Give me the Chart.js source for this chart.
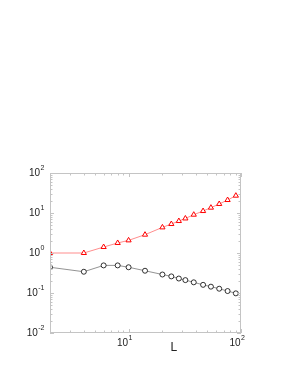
<!DOCTYPE html>
<html>
<head>
<meta charset="utf-8">
<script src="https://cdn.jsdelivr.net/npm/chart.js@4.4.1/dist/chart.umd.min.js"></script>
<style>
  html, body { margin: 0; padding: 0; background: #fff; }
  canvas { display: block; }
</style>
</head>
<body>
<canvas id="chart" width="291" height="376"></canvas>
<script>
// valores
const L_VALUES = [2, 4, 6, 8, 10, 14, 20, 24, 28, 32, 38, 46, 54, 64, 76, 90];
const SERIE_TRIANGULOS = [1.0, 1.0, 1.41, 1.78, 2.07, 2.87, 4.37, 5.3, 6.3, 7.3, 9.07, 11.2, 13.6, 16.8, 21.1, 27.1];
const SERIE_CIRCULOS = [0.44, 0.34, 0.49, 0.49, 0.44, 0.36, 0.29, 0.26, 0.23, 0.21, 0.185, 0.16, 0.144, 0.128, 0.112, 0.098];

const X_MAJOR = [10, 100];
const X_LABELS = [['10', '1'], ['10', '2']];
const Y_MAJOR = [0.01, 0.1, 1, 10, 100];
const Y_LABELS = [['10', '-2'], ['10', '-1'], ['10', '0'], ['10', '1'], ['10', '2']];
const X_TITLE = 'L';

const FRAME = '#c4c4c4';
const FONT = '"Liberation Sans", Arial, sans-serif';

function puntos(ys) {
    return L_VALUES.map((x, i) => ({ x: x, y: ys[i] }));
}

// marcas menores en escala log
function minorTicks(min, max) {
    const out = [];
    for (let d = Math.pow(10, Math.floor(Math.log10(min))); d < max; d *= 10) {
        for (let m = 1; m < 10; m++) {
            const v = d * m;
            if (v >= min * 0.999 && v <= max * 1.001) out.push(v);
        }
    }
    out.push(max);
    return out;
}

function drawLabel(ctx, base, exp, x, y, align) {
    ctx.font = '10px ' + FONT;
    const wb = ctx.measureText(base).width;
    ctx.font = '7px ' + FONT;
    const we = ctx.measureText(exp).width;
    let xb = align === 'right' ? x - we - wb : x - wb;
    ctx.fillStyle = '#222';
    ctx.textAlign = 'left';
    ctx.textBaseline = 'middle';
    ctx.font = '10px ' + FONT;
    ctx.fillText(base, xb, y);
    ctx.font = '7px ' + FONT;
    ctx.fillText(exp, xb + wb + 0.5, y - 5);
}

const marcoPlugin = {
    id: 'marco',
    afterDraw(chart) {
        const ctx = chart.ctx;
        const a = chart.chartArea;
        const sx = chart.scales.x, sy = chart.scales.y;
        ctx.save();
        ctx.strokeStyle = FRAME;
        ctx.lineWidth = 1;
        ctx.strokeRect(a.left + 0.5, a.top + 0.5, a.right - a.left - 1, a.bottom - a.top - 1);

        ctx.beginPath();
        minorTicks(sx.min, sx.max).forEach(v => {
            const px = Math.round(sx.getPixelForValue(v)) + 0.5;
            const len = X_MAJOR.includes(v) ? 4 : 2.5;
            ctx.moveTo(px, a.bottom); ctx.lineTo(px, a.bottom - len);
            ctx.moveTo(px, a.top); ctx.lineTo(px, a.top + len);
        });
        minorTicks(sy.min, sy.max).forEach(v => {
            const py = Math.round(sy.getPixelForValue(v)) + 0.5;
            const isMajor = Y_MAJOR.some(m => Math.abs(m - v) / m < 1e-6);
            const len = isMajor ? 4 : 2.5;
            ctx.moveTo(a.left, py); ctx.lineTo(a.left + len, py);
            ctx.moveTo(a.right, py); ctx.lineTo(a.right - len, py);
        });
        ctx.stroke();

        Y_MAJOR.forEach((v, i) => {
            drawLabel(ctx, Y_LABELS[i][0], Y_LABELS[i][1], a.left - 6, sy.getPixelForValue(v), 'right');
        });
        X_MAJOR.forEach((v, i) => {
            drawLabel(ctx, X_LABELS[i][0], X_LABELS[i][1], sx.getPixelForValue(v) - 0.5, a.bottom + 10, 'base');
        });

        ctx.fillStyle = '#222';
        ctx.font = '12px ' + FONT;
        ctx.textAlign = 'left';
        ctx.textBaseline = 'middle';
        ctx.fillText(X_TITLE, 170.5, a.bottom + 15);
        ctx.restore();
    }
};

new Chart(document.getElementById('chart'), {
    type: 'line',
    data: {
        datasets: [
            {
                data: puntos(SERIE_TRIANGULOS),
                borderColor: 'rgba(255,0,0,0.45)',
                borderWidth: 1,
                pointStyle: 'triangle',
                pointRadius: 3,
                pointBorderColor: '#ff0000',
                pointBackgroundColor: '#ffffff',
                pointBorderWidth: 1,
                tension: 0
            },
            {
                data: puntos(SERIE_CIRCULOS),
                borderColor: '#777777',
                borderWidth: 0.8,
                pointStyle: 'circle',
                pointRadius: 2.5,
                pointBorderColor: '#000000',
                pointBackgroundColor: '#ffffff',
                pointBorderWidth: 0.8,
                tension: 0
            }
        ]
    },
    options: {
        responsive: false,
        animation: false,
        devicePixelRatio: 1,
        layout: { padding: { top: 173, right: 50, left: 0, bottom: 0 } },
        plugins: {
            legend: { display: false },
            tooltip: { enabled: false }
        },
        scales: {
            x: {
                type: 'logarithmic',
                min: 2,
                max: 100,
                ticks: { display: false },
                grid: { display: false },
                border: { display: false },
                afterFit: s => { s.height = 43; }
            },
            y: {
                type: 'logarithmic',
                min: 0.01,
                max: 100,
                ticks: { display: false },
                grid: { display: false },
                border: { display: false },
                afterFit: s => { s.width = 50; }
            }
        }
    },
    plugins: [marcoPlugin]
});
</script>
</body>
</html>
